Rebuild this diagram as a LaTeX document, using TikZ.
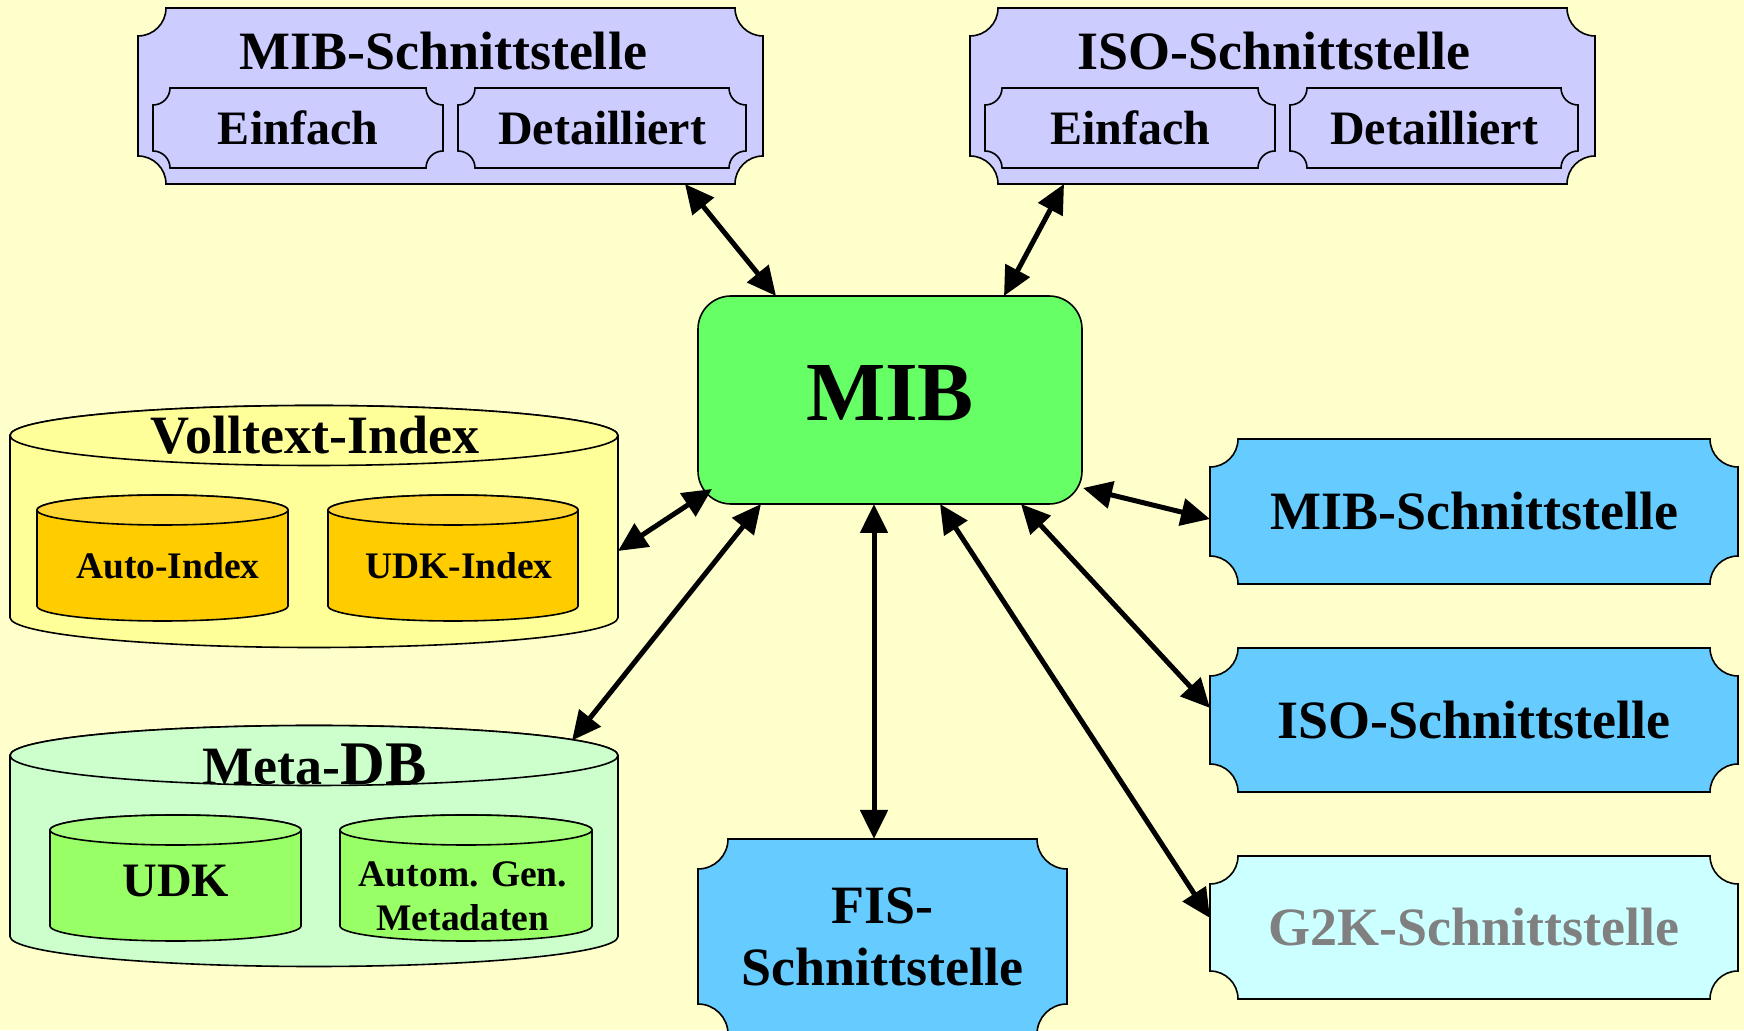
\documentclass[tikz,border=0pt]{standalone}
\usepackage{fontspec}
\setmainfont{Liberation Serif}
\usetikzlibrary{arrows.meta,calc,backgrounds}
\definecolor{bgyel}{HTML}{FFFFCC}
\definecolor{lav}{HTML}{CCCCFF}
\definecolor{mibgreen}{HTML}{66FF66}
\definecolor{skyb}{HTML}{66CCFF}
\definecolor{paleb}{HTML}{CCFFFF}
\definecolor{greytxt}{HTML}{808080}
\definecolor{vtfill}{HTML}{FFFF99}
\definecolor{goldbody}{HTML}{FFCC00}
\definecolor{goldtop}{HTML}{FFD633}
\definecolor{mintfill}{HTML}{CCFFCC}
\definecolor{limebody}{HTML}{99FF66}
\definecolor{limetop}{HTML}{A8FF80}
\newcommand\tktshape[3]{%
  \filldraw[fill=#3,line width=1.6pt] let \p1=(#1.south west), \p2=(#1.north east) in
  (\x1+#2,\y2) -- (\x2-#2,\y2) arc[start angle=180,end angle=270,radius=#2]
  -- (\x2,\y1+#2) arc[start angle=90,end angle=180,radius=#2]
  -- (\x1+#2,\y1) arc[start angle=0,end angle=90,radius=#2]
  -- (\x1,\y2-#2) arc[start angle=270,end angle=360,radius=#2] -- cycle;}
\newcommand\cylshape[4]{%
  \filldraw[fill=#3,line width=1.6pt] let \p1=(#1.south west), \p2=(#1.north east), \n1={(\x2-\x1)/2} in
  (\x1,\y2-#2) -- (\x1,\y1+#2) arc[start angle=180,end angle=360,x radius=\n1,y radius=#2]
  -- (\x2,\y2-#2) arc[start angle=0,end angle=180,x radius=\n1,y radius=#2] -- cycle;
  \filldraw[fill=#4,line width=1.6pt] let \p1=(#1.south west), \p2=(#1.north east), \n1={(\x2-\x1)/2} in
  ($(#1.north)+(0,-#2)$) ellipse[x radius=\n1,y radius=#2];}
\begin{document}
\begin{tikzpicture}[x=1pt,y=1pt,
  shapebox/.style={draw=none,inner sep=0pt,outer sep=0pt},
  bigtxt/.style={font=\bfseries\fontsize{54}{62}\selectfont,align=center},
  midtxt/.style={font=\bfseries\fontsize{48}{52}\selectfont},
  smalltxt/.style={font=\bfseries\fontsize{37.5}{44}\selectfont,align=center,inner sep=0pt},
  conn/.style={line width=5pt,{Triangle[length=29pt,width=27pt]}-{Triangle[length=29pt,width=27pt]}}]
\useasboundingbox (0,0) rectangle (1744,1030);
% top interface boxes
\node[shapebox,minimum width=625pt,minimum height=176pt] (tl) at (450.5,934) {};
\node[bigtxt,inner sep=0pt] (tlt) at (443,979) {MIB-Schnittstelle};
\node[shapebox,midtxt,minimum width=290pt,minimum height=80pt] (tle) at (298,902) {Einfach};
\node[shapebox,midtxt,minimum width=288pt,minimum height=80pt] (tld) at (602,902) {Detailliert};
\node[shapebox,minimum width=625pt,minimum height=176pt] (tr) at (1282.5,934) {};
\node[bigtxt,inner sep=0pt] (trt) at (1274,979) {ISO-Schnittstelle};
\node[shapebox,midtxt,minimum width=290pt,minimum height=80pt] (tre) at (1130,902) {Einfach};
\node[shapebox,midtxt,minimum width=288pt,minimum height=80pt] (trd) at (1434,902) {Detailliert};
% central MIB
\node[draw,line width=1.6pt,fill=mibgreen,rounded corners=33pt,minimum width=384pt,minimum height=208pt,inner sep=0pt,outer sep=0pt,text depth=14pt,font=\bfseries\fontsize{84}{90}\selectfont] (mib) at (890,630) {MIB};
% right interfaces
\node[shapebox,bigtxt,minimum width=528pt,minimum height=145pt] (ms) at (1474,518.5) {MIB-Schnittstelle};
\node[shapebox,bigtxt,minimum width=528pt,minimum height=144pt] (is) at (1474,310) {ISO-Schnittstelle};
\node[shapebox,bigtxt,text=greytxt,minimum width=528pt,minimum height=143pt] (gs) at (1474,102.5) {G2K-Schnittstelle};
\node[shapebox,bigtxt,minimum width=369pt,minimum height=195pt] (fis) at (882.5,93.5) {FIS-\\Schnittstelle};
% databases
\node[shapebox,minimum width=608pt,minimum height=242pt] (vt) at (314,503.5) {};
\node[shapebox,minimum width=251pt,minimum height=126pt] (ai) at (162.5,472) {};
\node[shapebox,minimum width=250pt,minimum height=126pt] (ui) at (453,472) {};
\node[shapebox,minimum width=608pt,minimum height=241pt] (md) at (314,184) {};
\node[shapebox,minimum width=251pt,minimum height=126pt] (ud) at (175.5,152) {};
\node[shapebox,minimum width=252pt,minimum height=126pt] (ag) at (466,152) {};
\node[bigtxt,inner sep=0pt] (vtt) at (315,595) {Volltext-Index};
\node[smalltxt] (ait) at (168,464) {Auto-Index};
\node[smalltxt] (uit) at (459,464) {UDK-Index};
\node[bigtxt,inner sep=0pt] (mdt) at (315,266) {Meta-{\fontsize{62}{62}\selectfont DB}};
\node[midtxt,inner sep=0pt] (udt) at (176,149) {UDK};
\node[smalltxt] (agt) at (463,134) {Autom. Gen.\\Metadaten};
\begin{pgfonlayer}{background}
  \fill[bgyel] (0,0) rectangle (1744,1030);
  \tktshape{tl}{28pt}{lav}
  \tktshape{tle}{17pt}{lav}
  \tktshape{tld}{17pt}{lav}
  \tktshape{tr}{28pt}{lav}
  \tktshape{tre}{17pt}{lav}
  \tktshape{trd}{17pt}{lav}
  \tktshape{ms}{28pt}{skyb}
  \tktshape{is}{28pt}{skyb}
  \tktshape{gs}{28pt}{paleb}
  \tktshape{fis}{30pt}{skyb}
  \cylshape{vt}{30pt}{vtfill}{vtfill}
  \cylshape{ai}{15pt}{goldbody}{goldtop}
  \cylshape{ui}{15pt}{goldbody}{goldtop}
  \cylshape{md}{30pt}{mintfill}{mintfill}
  \cylshape{ud}{15pt}{limebody}{limetop}
  \cylshape{ag}{15pt}{limebody}{limetop}
\end{pgfonlayer}
% connectors
\draw[conn] ($(tl.south)+(234.5,0)$) -- ($(mib.north)+(-114,0)$);
\draw[conn] ($(tr.south)+(-218.5,0)$) -- ($(mib.north)+(114,0)$);
\draw[conn] ($(mib.east)+(1,-88)$) -- ($(ms.west)+(0,-7.5)$);
\draw[conn] ($(mib.south)+(131,0)$) -- ($(is.west)+(0,12)$);
\draw[conn] ($(mib.south)+(50,0)$) -- ($(gs.west)+(0,9.5)$);
\draw[conn] ($(mib.south)+(-16,0)$) -- ($(fis.north)+(-8.5,0)$);
\draw[conn] ($(mib.south)+(-129,0)$) -- ($(md.north)+(258,-15)$);
\draw[conn] ($(mib.west)+(14,-89)$) -- ($(vt.east)+(0,-24.5)$);
\end{tikzpicture}
\end{document}
